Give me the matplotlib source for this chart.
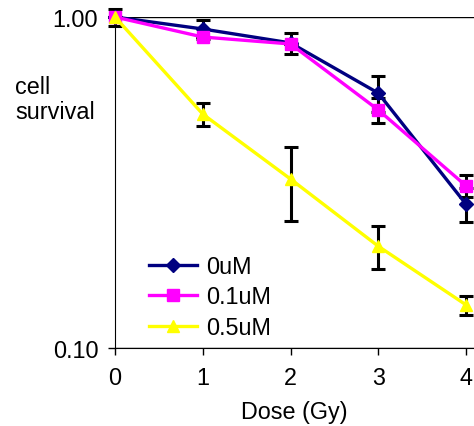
import numpy as np
import matplotlib
matplotlib.use("Agg")
from matplotlib import pyplot as plt

# Data
dose = [0, 1, 2, 3, 4]
surv_0uM = [1.00, 0.92, 0.835, 0.589, 0.272]
surv_01uM = [1.00, 0.87, 0.829, 0.524, 0.309]
surv_05uM = [1.00, 0.509, 0.324, 0.203, 0.135]
err_0uM = [0.06, 0.06, 0.06, 0.074, 0.032]
err_01uM = [0.0, 0.0, 0.0, 0.045, 0.024]
err_05uM = [0.0, 0.04, 0.082, 0.03, 0.009]
labels = ["0uM", "0.1uM", "0.5uM"]

plt.rcParams["font.family"] = ["Liberation Sans", "DejaVu Sans"]
fs = 16.8

fig = plt.figure(figsize=(4.74, 4.27), dpi=100)
ax = fig.add_axes([115 / 474, 78 / 427, 359 / 474, 331 / 427])

series = [
    (surv_0uM, err_0uM, "#000080", "D", 7.5),
    (surv_01uM, err_01uM, "#FF00FF", "s", 8),
    (surv_05uM, err_05uM, "#FFFF00", "^", 9),
]

# error bars first so the markers sit on top of them
for vals, errs, col, mk, ms in series:
    ax.errorbar(dose, vals, yerr=errs, fmt="none", ecolor="black",
                elinewidth=2.2, capsize=4.8, capthick=2.2, zorder=2, clip_on=False)

for (vals, errs, col, mk, ms), lab in zip(series, labels):
    ax.plot(dose, vals, color=col, lw=2.4, marker=mk, markersize=ms,
            markeredgecolor=col, label=lab, zorder=3, clip_on=False)

ax.set_yscale("log")
ax.set_ylim(0.1, 1.0)
ax.set_xlim(0, 4 * 359 / 351)
ax.set_yticks([0.1, 1.0])
ax.set_yticklabels(["0.10", "1.00"])
ax.minorticks_off()
ax.set_xticks(dose)
ax.tick_params(axis="both", labelsize=fs, length=5, width=1, direction="out")
ax.tick_params(axis="y", pad=7)
ax.tick_params(axis="x", pad=8)

ax.spines["top"].set_visible(False)
ax.spines["right"].set_visible(False)
ax.grid(axis="y", which="major", color="black", lw=1)
ax.set_axisbelow(True)

ax.set_xlabel("Dose (Gy)", fontsize=fs, labelpad=8)
fig.text(15 / 474, 1 - 100 / 427, "cell\nsurvival", fontsize=fs,
         ha="left", va="center", linespacing=1.15)

leg = ax.legend(loc="upper left", bbox_to_anchor=(149 / 474, 1 - 256 / 427),
                bbox_transform=fig.transFigure, frameon=False, fontsize=fs,
                handlelength=2.05, handletextpad=0.4, labelspacing=0.32,
                borderpad=0, borderaxespad=0)

plt.savefig("out.png", dpi=100)
